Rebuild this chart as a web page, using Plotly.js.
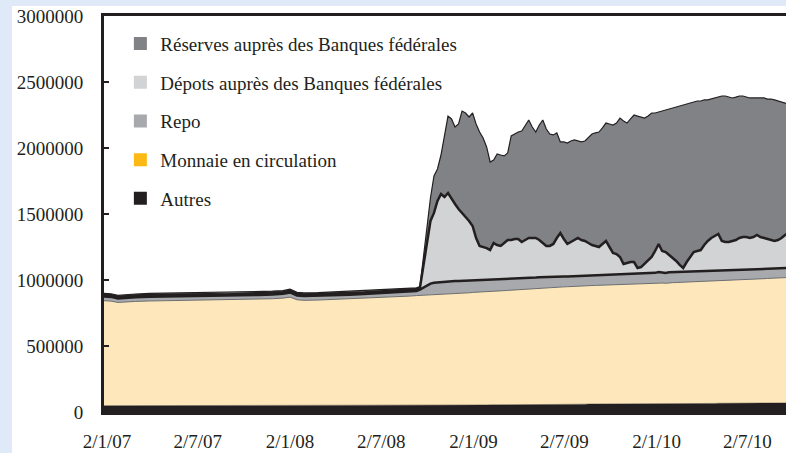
<!DOCTYPE html>
<html>
<head>
<meta charset="utf-8">
<script src="https://cdn.plot.ly/plotly-3.0.1.min.js"></script>
<style>html,body{margin:0;padding:0;background:#fff;}#chart{width:786px;height:453px;}</style>
</head>
<body>
<div id="chart"></div>
<script>
const dates = [
'2006-12-27','2007-01-10','2007-01-24','2007-02-07','2007-02-28','2007-03-28','2007-04-25','2007-05-30','2007-06-27','2007-07-25','2007-08-29','2007-09-26','2007-10-31','2007-11-28','2007-12-19','2008-01-02','2008-01-16','2008-01-30','2008-02-27','2008-03-26','2008-04-30','2008-05-28','2008-06-25','2008-07-30','2008-08-27',
'2008-09-10','2008-09-17','2008-09-24','2008-10-01','2008-10-08','2008-10-15','2008-10-22','2008-10-29','2008-11-05','2008-11-12','2008-11-19','2008-11-26','2008-12-03','2008-12-10','2008-12-17','2008-12-24','2008-12-31',
'2009-01-07','2009-01-14','2009-01-21','2009-01-28','2009-02-04','2009-02-11','2009-02-18','2009-02-25','2009-03-04','2009-03-11','2009-03-18','2009-03-25','2009-04-01','2009-04-08','2009-04-15','2009-04-22','2009-04-29','2009-05-06','2009-05-13','2009-05-20','2009-05-27','2009-06-03','2009-06-10','2009-06-17','2009-06-24','2009-07-01','2009-07-08','2009-07-15','2009-07-22','2009-07-29','2009-08-05','2009-08-12','2009-08-19','2009-08-26','2009-09-02','2009-09-09','2009-09-16','2009-09-23','2009-09-30','2009-10-07','2009-10-14','2009-10-21','2009-10-28','2009-11-04','2009-11-11','2009-11-18','2009-11-25','2009-12-02','2009-12-09','2009-12-16','2009-12-23','2009-12-30',
'2010-01-06','2010-01-13','2010-01-20','2010-01-27','2010-02-03','2010-02-10','2010-02-17','2010-02-24','2010-03-03','2010-03-10','2010-03-17','2010-03-24','2010-03-31','2010-04-07','2010-04-14','2010-04-21','2010-04-28','2010-05-05','2010-05-12','2010-05-19','2010-05-26','2010-06-02','2010-06-09','2010-06-16','2010-06-23','2010-06-30','2010-07-07','2010-07-14','2010-07-21','2010-07-28','2010-08-04','2010-08-11','2010-08-18','2010-08-25','2010-09-01','2010-09-08','2010-09-15','2010-09-22'
];

const autres = [
48000,48000,48000,48000,48000,48000,48000,48000,48000,48000,48000,48000,48000,48000,48000,48000,48000,48000,48000,49000,49000,49000,49000,49000,50000,
50000,50000,50000,50000,50000,50000,50000,51000,51000,51000,51000,52000,52000,52000,52000,52000,53000,
53000,53000,53000,53000,54000,54000,54000,54000,54000,55000,55000,55000,55000,56000,56000,56000,56000,57000,57000,57000,57000,57000,58000,58000,58000,58000,58000,59000,59000,59000,59000,59000,60000,60000,60000,60000,60000,60000,61000,61000,61000,61000,61000,62000,62000,62000,62000,62000,62000,63000,63000,63000,
63000,63000,63000,64000,64000,64000,64000,64000,64000,65000,65000,65000,65000,65000,65000,65000,65000,66000,66000,66000,66000,66000,66000,66000,67000,67000,67000,67000,67000,67000,68000,68000,68000,68000,68000,68000,68000,68000
];

const monnaie = [
795000,792000,782000,786000,790000,793000,795000,797000,798000,800000,801000,803000,806000,810000,815000,822000,802000,798000,800000,803000,807000,812000,816000,822000,828000,
832000,833000,834000,835000,836000,837000,838000,839000,840000,842000,843000,844000,845000,847000,849000,851000,853000,
854000,855000,857000,858000,859000,860000,861000,863000,865000,866000,868000,870000,872000,873000,875000,877000,879000,880000,882000,883000,885000,886000,887000,888000,889000,890000,891000,892000,893000,894000,895000,896000,897000,898000,899000,900000,902000,903000,903000,904000,905000,906000,907000,907000,908000,909000,910000,910000,911000,911000,912000,913000,
918000,914000,912000,915000,916000,917000,918000,919000,920000,921000,921000,922000,922000,923000,924000,925000,926000,926000,927000,928000,929000,930000,931000,932000,933000,935000,936000,938000,939000,941000,942000,944000,945000,947000,948000,949000,950000,951000
];

const repo = [
32000,32000,30000,32000,32000,33000,32000,32000,33000,32000,30000,32000,32000,33000,33000,36000,32000,32000,32000,33000,33000,32000,33000,33000,34000,
35000,45000,60000,75000,87000,92000,94000,95000,95000,96000,96000,96000,96000,95000,95000,94000,93000,
92000,91000,90000,90000,89000,89000,88000,88000,87000,87000,86000,86000,85000,85000,84000,83000,83000,82000,82000,81000,81000,80000,80000,79000,79000,78000,78000,77000,77000,76000,76000,75000,75000,75000,74000,74000,74000,74000,74000,74000,75000,75000,75000,75000,75000,75000,75000,76000,76000,76000,77000,78000,
80000,78000,78000,79000,79000,79000,80000,80000,80000,80000,80000,80000,80000,80000,80000,80000,80000,80000,79000,79000,78000,78000,77000,77000,76000,76000,75000,75000,74000,74000,73000,73000,72000,72000,72000,72000,72000,72000
];

const depots = [
12000,12000,12000,12000,12000,12000,13000,12000,12000,12000,12000,12000,12000,12000,12000,12000,12000,12000,12000,12000,12000,12000,12000,12000,12000,
12000,12000,154000,313000,474000,529000,617000,667000,643000,670000,624000,584000,545000,514000,481000,450000,410000,
319000,259000,250000,241000,225000,277000,262000,253000,274000,295000,294000,300000,299000,274000,288000,302000,300000,299000,282000,259000,235000,235000,248000,293000,330000,285000,246000,260000,274000,289000,273000,266000,248000,232000,225000,216000,237000,259000,212000,166000,156000,132000,78000,85000,91000,90000,44000,50000,72000,94000,122000,166000,
212000,165000,159000,131000,108000,84000,52000,28000,72000,108000,146000,153000,160000,197000,227000,248000,262000,277000,224000,215000,215000,222000,229000,243000,250000,248000,240000,246000,261000,244000,235000,226000,218000,209000,215000,229000,251000,265000
];

const reserves = [
12000,12000,12000,12000,12000,12000,12000,12000,12000,12000,14000,12000,12000,12000,12000,12000,12000,12000,12000,12000,12000,12000,12000,12000,12000,
12000,10000,91000,144000,174000,280000,242000,295000,462000,583000,606000,583000,644000,772000,788000,788000,856000,
864000,863000,826000,766000,667000,629000,690000,689000,660000,659000,788000,795000,810000,841000,871000,894000,841000,803000,871000,932000,886000,848000,826000,796000,690000,735000,765000,765000,758000,735000,743000,757000,796000,841000,856000,871000,879000,893000,932000,969000,992000,1053000,1084000,1060000,1084000,1114000,1151000,1137000,1106000,1098000,1091000,1045000,
1000000,1060000,1076000,1107000,1136000,1167000,1204000,1235000,1197000,1167000,1137000,1136000,1129000,1099000,1068000,1053000,1046000,1037000,1098000,1106000,1098000,1083000,1083000,1076000,1068000,1060000,1061000,1053000,1038000,1053000,1061000,1060000,1068000,1068000,1053000,1031000,1000000,977000
];

const seriesNames = ['Autres','Monnaie en circulation','Repo','Dépots auprès des Banques fédérales','Réserves auprès des Banques fédérales'];
const fillColors = ['#231f20','#fee8bb','#a7a9ac','#d1d3d4','#808285'];
const lineColors = ['#231f20','#6d6e71','#231f20','#231f20','#231f20'];
const lineWidths = [0.5,1,2.5,2.5,1.2];
const legendColors = ['#231f20','#fdb913','#a7a9ac','#d1d3d4','#808285'];

const xTickVals = ['2007-01-02','2007-07-02','2008-01-02','2008-07-02','2009-01-02','2009-07-02','2010-01-02','2010-07-02'];
const xTickText = ['2/1/07','2/7/07','2/1/08','2/7/08','2/1/09','2/7/09','2/1/10','2/7/10'];
const yTickVals = [0,500000,1000000,1500000,2000000,2500000,3000000];
const yTickText = ['0','500000','1000000','1500000','2000000','2500000','3000000'];

const seriesData = [autres, monnaie, repo, depots, reserves];
const font = {family: 'Liberation Serif, Times New Roman, serif', size: 19, color: '#231f20'};

const traces = [];
seriesData.forEach((vals, i) => {
  traces.push({
    type: 'scatter', mode: 'lines', x: dates, y: vals, name: seriesNames[i],
    stackgroup: 'one', fillcolor: fillColors[i],
    line: {color: lineColors[i], width: lineWidths[i], shape: 'linear'},
    showlegend: false, hoverinfo: 'skip'
  });
});
// legend entries (top to bottom)
[4,3,2,1,0].forEach((i, k) => {
  traces.push({
    type: 'scatter', mode: 'markers', x: [null], y: [null], name: seriesNames[i],
    marker: {symbol: 'square', size: 13, color: legendColors[i], line: {width: 0}},
    legendgroup: 'g' + k, showlegend: true, hoverinfo: 'skip'
  });
});

const layout = {
  width: 786, height: 453,
  margin: {l: 104, r: 0, t: 16, b: 41, pad: 0},
  paper_bgcolor: '#ffffff', plot_bgcolor: '#ffffff',
  font: font,
  showlegend: true,
  legend: {x: 0.024, y: 0.978, xanchor: 'left', yanchor: 'top', bgcolor: 'rgba(0,0,0,0)',
           font: font, traceorder: 'grouped', tracegroupgap: 11, borderwidth: 0},
  xaxis: {type: 'date', range: ['2006-12-27', '2010-09-17'], tickmode: 'array',
          tickvals: xTickVals, ticktext: xTickText, showgrid: false, zeroline: false,
          showline: true, mirror: true, linecolor: '#231f20', linewidth: 3, ticks: '',
          tickfont: font, ticklabelstandoff: 10},
  yaxis: {range: [0, 3000000], tickmode: 'array', tickvals: yTickVals, ticktext: yTickText,
          showgrid: false, zeroline: false, showline: true, linecolor: '#231f20', linewidth: 3,
          ticks: 'inside', ticklen: 5, tickwidth: 2, tickcolor: '#231f20',
          tickfont: font, ticklabelstandoff: 14},
  shapes: [
    {type: 'rect', xref: 'paper', yref: 'paper', x0: -0.1525, x1: -0.1349, y0: -0.11, y1: 1.045,
     fillcolor: '#dfe9f7', line: {width: 0}, layer: 'below'},
    {type: 'rect', xref: 'paper', yref: 'paper', x0: -0.1525, x1: 1.01, y0: 1.0253, y1: 1.045,
     fillcolor: '#dfe9f7', line: {width: 0}, layer: 'below'}
  ],
  hovermode: false
};

Plotly.newPlot('chart', traces, layout, {staticPlot: true, displayModeBar: false});
</script>
</body>
</html>
